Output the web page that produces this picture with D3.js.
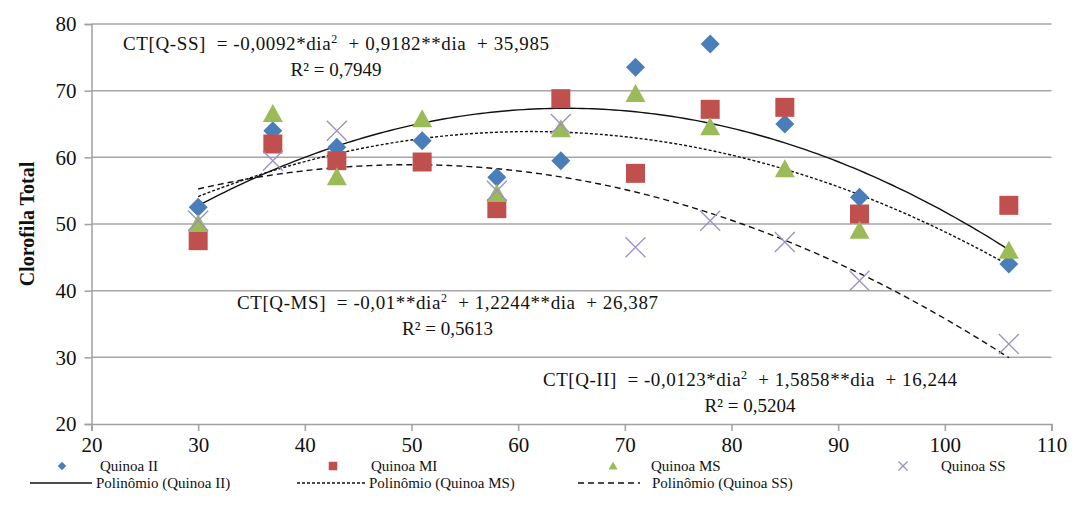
<!DOCTYPE html>
<html>
<head>
<meta charset="utf-8">
<script src="https://cdn.jsdelivr.net/npm/d3@7"></script>
<style>
  body { margin: 0; background: #fff; }
  text { font-family: "Liberation Serif", "Times New Roman", serif; fill: #111; white-space: pre; }
</style>
</head>
<body>
<div id="chart"></div>
<script>
// days after sowing
var dias = [30, 37, 43, 51, 58, 64, 71, 78, 85, 92, 106]

var quinoaII = [52.5, 64, 61.5, 62.5, 57, 59.5, 73.5, 77, 65, 54, 44]
var quinoaMI = [47.5, 62, 59.5, 59.3, 52.3, 68.8, 57.6, 67.2, 67.5, 51.5, 52.8]
var quinoaMS = [50, 66.5, 57, 65.7, 54.5, 64.2, 69.5, 64.5, 58.2, 49, 46]
var quinoaSS = [50.5, 59.5, 64, null, 55, 65, 46.5, 50.5, 47.3, 41.5, 32]

var coefII = [-0.0123, 1.5858, 16.244]
var coefMS = [-0.01, 1.2244, 26.387]
var coefSS = [-0.0092, 0.9182, 35.985]

var xTicks = [20, 30, 40, 50, 60, 70, 80, 90, 100, 110]
var yTicks = [20, 30, 40, 50, 60, 70, 80]

var W = 1078, H = 524
var svg = d3.select("#chart").append("svg").attr("width", W).attr("height", H)

var x = d3.scaleLinear().domain([20, 110]).range([91.5, 1051.5])
var y = d3.scaleLinear().domain([20, 80]).range([424, 24])

// gridlines
svg.append("g")
    .selectAll("line")
    .data(yTicks.slice(1))
    .enter()
    .append("line")
    .attr("x1", x(20)).attr("x2", x(110))
    .attr("y1", (d) => y(d)).attr("y2", (d) => y(d))
    .style("stroke", "#a6a6a6").style("stroke-width", 1.5)

var xAxis = svg.append("g")
    .attr("transform", `translate(0,${y(20)})`)
    .call(d3.axisBottom(x).tickValues(xTicks).tickSize(7).tickPadding(6))
var yAxis = svg.append("g")
    .attr("transform", `translate(${x(20)},0)`)
    .call(d3.axisLeft(y).tickValues(yTicks).tickSize(7).tickPadding(8))

for (var ax of [xAxis, yAxis]) {
    ax.select(".domain").style("stroke", "#a0a0a0").style("stroke-width", 1.5)
    ax.selectAll(".tick line").style("stroke", "#a0a0a0").style("stroke-width", 1.5)
    ax.selectAll(".tick text")
        .style("font-family", "'Liberation Serif', serif")
        .style("font-size", "21px").style("fill", "#111")
}

svg.append("text")
    .attr("transform", `translate(34,${y(50)}) rotate(-90)`)
    .attr("text-anchor", "middle")
    .style("font-size", "20px").style("font-weight", "bold")
    .text("Clorofila Total")

// trend lines
var poly = (c) => (v) => c[0] * v * v + c[1] * v + c[2]
var trend = [
    { coef: coefII, dash: null },
    { coef: coefMS, dash: "3,2" },
    { coef: coefSS, dash: "6,4" }
]
var line = d3.line().x((d) => x(d[0])).y((d) => y(d[1]))
trend.forEach((t) => {
    var f = poly(t.coef)
    var pts = d3.range(30, 106.01, 0.5).map((v) => [v, f(v)])
    svg.append("path")
        .datum(pts)
        .attr("d", line)
        .style("fill", "none").style("stroke", "#111").style("stroke-width", 1.4)
        .style("stroke-dasharray", t.dash)
})

// markers
var series = [
    { name: "Quinoa II", values: quinoaII, color: "#4a7ebb", kind: "diamond", r: 9.5 },
    { name: "Quinoa MI", values: quinoaMI, color: "#c0504d", kind: "square", r: 9.5 },
    { name: "Quinoa MS", values: quinoaMS, color: "#9bbb59", kind: "triangle", r: 10 },
    { name: "Quinoa SS", values: quinoaSS, color: "#9d8fc4", kind: "x", r: 10 }
]

function drawMarker(g, s, cx, cy, scale) {
    var r = s.r * scale
    var p
    if (s.kind == "diamond") p = `M${cx},${cy - r}L${cx + r},${cy}L${cx},${cy + r}L${cx - r},${cy}Z`
    if (s.kind == "square") p = `M${cx - r},${cy - r}h${2 * r}v${2 * r}h${-2 * r}Z`
    if (s.kind == "triangle") p = `M${cx},${cy - r}L${cx + r},${cy + r * 0.8}L${cx - r},${cy + r * 0.8}Z`
    if (s.kind == "x") {
        g.append("path")
            .attr("d", `M${cx - r},${cy - r}L${cx + r},${cy + r}M${cx - r},${cy + r}L${cx + r},${cy - r}`)
            .style("stroke", s.color).style("stroke-width", 1.3).style("fill", "none")
        return
    }
    g.append("path").attr("d", p).style("fill", s.color)
}

series.forEach((s) => {
    var g = svg.append("g")
    dias.forEach((d, i) => {
        if (s.values[i] == null) return
        drawMarker(g, s, x(d), y(s.values[i]), 1)
    })
})

// equation labels
var eqs = [
    { name: "CT[Q-SS]", a: "-0,0092*", b: "0,9182**", c: "35,985", r2: "0,7949", x: 123, y: 50, w: 426 },
    { name: "CT[Q-MS]", a: "-0,01**", b: "1,2244**", c: "26,387", r2: "0,5613", x: 237, y: 309, w: 421 },
    { name: "CT[Q-II]", a: "-0,0123*", b: "1,5858**", c: "16,244", r2: "0,5204", x: 543, y: 386, w: 414 }
]
eqs.forEach((e) => {
    var t = svg.append("text").attr("x", e.x).attr("y", e.y).style("font-size", "19px")
        .attr("textLength", e.w).attr("lengthAdjust", "spacing")
    t.append("tspan").text(`${e.name}  = ${e.a}dia`)
    t.append("tspan").attr("dy", -7).style("font-size", "12px").text("2")
    t.append("tspan").attr("dy", 7).text(`  + ${e.b}dia  + ${e.c}`)
    svg.append("text")
        .attr("x", e.x + e.w / 2).attr("y", e.y + 26)
        .attr("text-anchor", "middle").style("font-size", "19px")
        .text(`R² = ${e.r2}`)
})

// legend
var legX = [62, 333, 613, 903]
var legend = svg.append("g")
series.forEach((s, i) => {
    drawMarker(legend, s, legX[i], 466, 0.45)
    legend.append("text").attr("x", legX[i] + 38).attr("y", 471)
        .style("font-size", "15px").text(s.name)
})
var legLines = [
    { x1: 30, x2: 92, tx: 96, dash: null, label: "Polinômio (Quinoa II)" },
    { x1: 297, x2: 365, tx: 369, dash: "3,2", label: "Polinômio (Quinoa MS)" },
    { x1: 578, x2: 640, tx: 652, dash: "6,4", label: "Polinômio (Quinoa SS)" }
]
legLines.forEach((l) => {
    legend.append("line").attr("x1", l.x1).attr("x2", l.x2).attr("y1", 483).attr("y2", 483)
        .style("stroke", "#111").style("stroke-width", 1.4).style("stroke-dasharray", l.dash)
    legend.append("text").attr("x", l.tx).attr("y", 488)
        .style("font-size", "15px").text(l.label)
})
</script>
</body>
</html>
